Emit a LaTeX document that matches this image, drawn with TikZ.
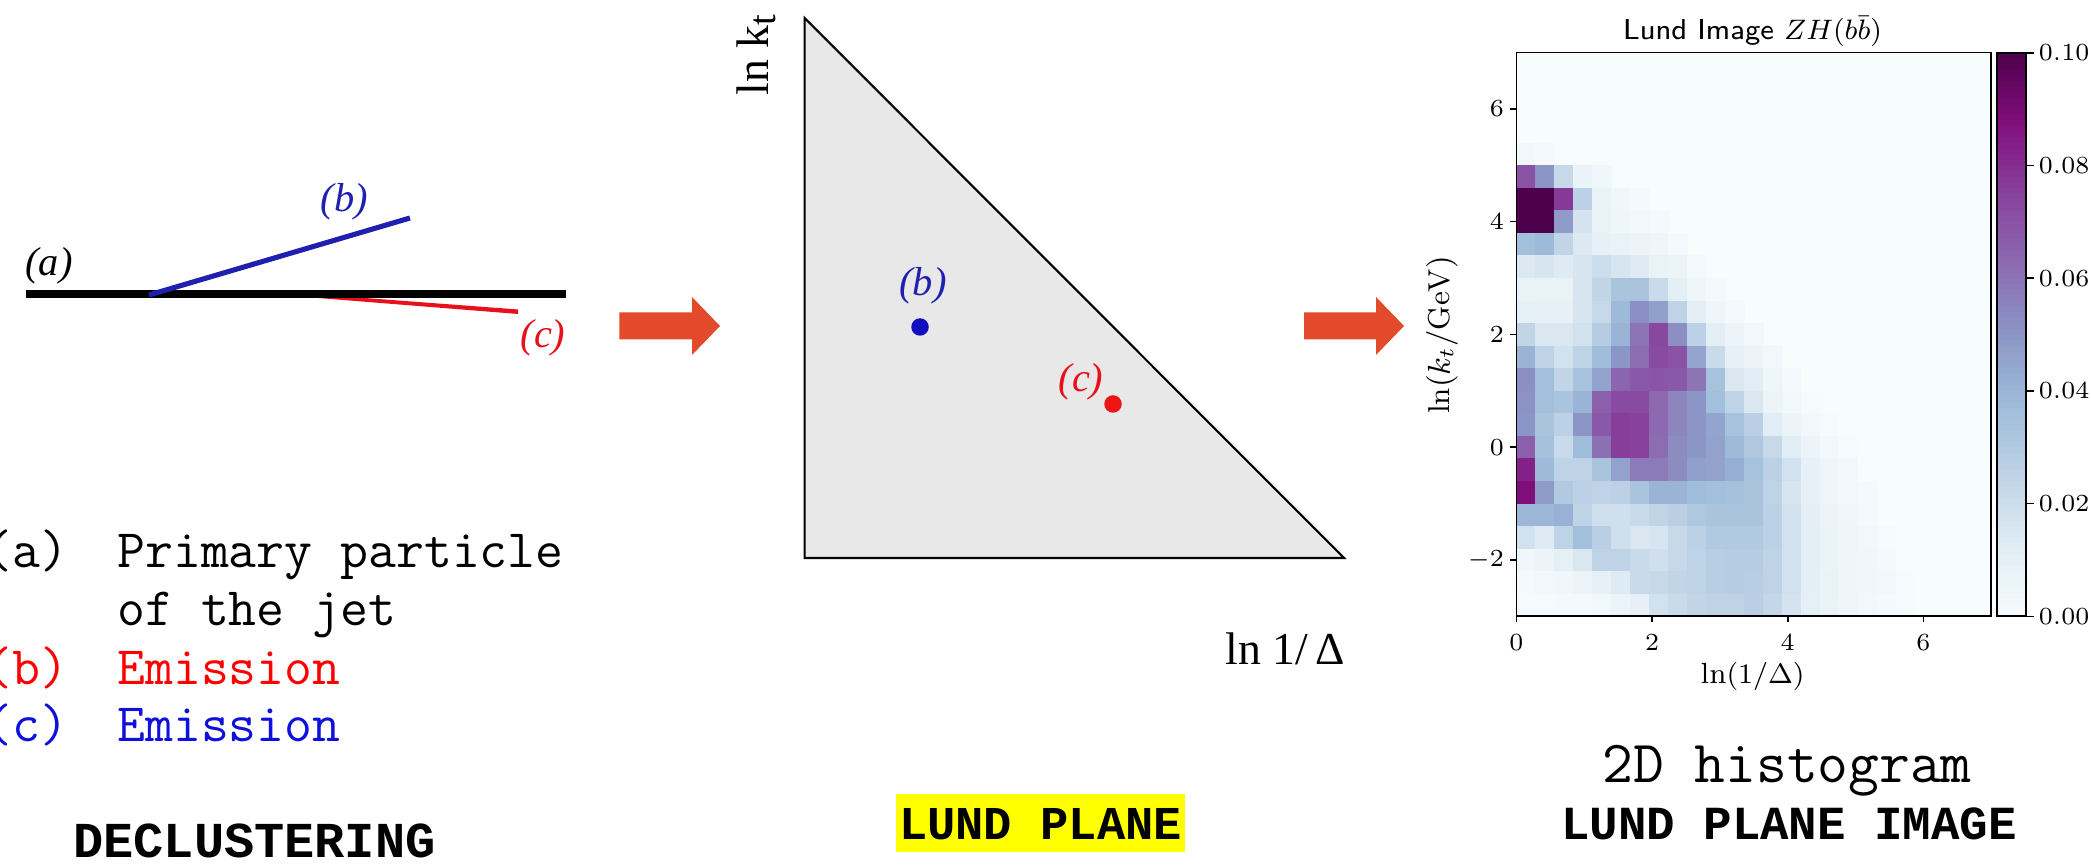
\documentclass[tikz,border=0pt]{standalone}
\usepackage{fontspec}
\newfontfamily\timesf{Liberation Serif}
\newfontfamily\boldmono{Liberation Mono}
\definecolor{bp0}{HTML}{F7FCFD}
\definecolor{bp1}{HTML}{E0ECF4}
\definecolor{bp2}{HTML}{BFD3E6}
\definecolor{bp3}{HTML}{9EBCDA}
\definecolor{bp4}{HTML}{8C96C6}
\definecolor{bp5}{HTML}{8C6BB1}
\definecolor{bp6}{HTML}{88419D}
\definecolor{bp7}{HTML}{810F7C}
\definecolor{bp8}{HTML}{4D004B}
\definecolor{arrowc}{HTML}{E24A2B}
\definecolor{lineblue}{HTML}{2020B0}
\definecolor{linered}{HTML}{E8101A}
\definecolor{dotblue}{HTML}{1010C0}
\definecolor{dotred}{HTML}{F01515}
\definecolor{txtred}{HTML}{FF0000}
\definecolor{txtblue}{HTML}{1010DD}
\definecolor{trigray}{HTML}{E8E8E8}
\definecolor{hlyellow}{HTML}{FFFF00}
\newcommand\hmcol[1]{%
  \pgfmathsetmacro\hmT{min(#1,99.99)/12.5}%
  \pgfmathtruncatemacro\hmI{floor(\hmT)}%
  \pgfmathtruncatemacro\hmJ{\hmI+1}%
  \pgfmathtruncatemacro\hmP{round(100*(\hmJ-\hmT))}%
  \colorlet{cellc}{bp\hmI!\hmP!bp\hmJ}}
\tikzset{
  lbl/.style={inner sep=0pt, font=\timesf\itshape\fontsize{11.5}{12}\selectfont},
  axlbl/.style={inner sep=0pt, font=\timesf\fontsize{13}{14}\selectfont},
  mono/.style={inner sep=0pt, anchor=base west, font=\ttfamily\fontsize{15.4}{16}\selectfont},
  monob/.style={inner sep=0pt, anchor=base, font=\boldmono\bfseries\fontsize{13.5}{14}\selectfont},
  ticklbl/.style={inner sep=0pt, font=\fontsize{7}{8}\selectfont},
  dotmark/.style={circle, inner sep=0pt, minimum size=0.175cm},
  blockarrow/.style={fill=arrowc},
  tickline/.style={line width=0.45pt}
}
\begin{document}
\begin{tikzpicture}[x=0.01cm,y=-0.01cm]
\useasboundingbox (0,0) rectangle (2091,865);
\fill[white] (0,0) rectangle (2091,865);

% ---------------- left panel: declustering ----------------
\coordinate (a0) at (26,294);
\coordinate (a1) at (566,294);
\coordinate (b0) at (149,295);
\coordinate (b1) at (410,218);
\fill[linered] (318,294.5) -- (518,309.5) -- (518,314) -- (318,298) -- cycle;
\draw[line width=2.3pt] (a0) -- (a1);
\draw[lineblue, line width=1.45pt] (b0) -- (b1);
\node[lbl] (la) at (49,266) {(a)};
\node[lbl, text=lineblue] (lb) at (344.5,202) {(b)};
\node[lbl, text=linered] (lc) at (543,338) {(c)};

\node[mono] (ia) at (-16,568) {(a)};
\node[mono] (ta) at (116.7,568) {Primary particle};
\node[mono] (ta2) at (116.7,626) {of the jet};
\node[mono, text=txtred] (ib) at (-16,685) {(b)};
\node[mono, text=txtred] (tb) at (116.7,685) {Emission};
\node[mono, text=txtblue] (ic) at (-16,742) {(c)};
\node[mono, text=txtblue] (tc) at (116.7,742) {Emission};
\node[monob, font=\boldmono\bfseries\fontsize{14.3}{15}\selectfont] (decl) at (254.5,858) {DECLUSTERING};

% ---------------- arrows ----------------
\fill[blockarrow] (619.4,312.5) -- (692,312.5) -- (692,297) -- (720,326) -- (692,355) -- (692,339.5) -- (619.4,339.5) -- cycle;
\fill[blockarrow] (1304,312.5) -- (1376,312.5) -- (1376,297) -- (1404,326) -- (1376,355) -- (1376,339.5) -- (1304,339.5) -- cycle;

% ---------------- middle panel: Lund plane ----------------
\coordinate (t0) at (804.6,18);
\coordinate (t1) at (804.6,558);
\coordinate (t2) at (1344,558);
\filldraw[fill=trigray, draw=black, line width=0.6pt, line join=miter] (t0) -- (t1) -- (t2) -- cycle;
\node[axlbl, rotate=90, anchor=base west] (lnkt) at (768,96) {ln k\raisebox{-0.35ex}{\fontsize{11}{11}\selectfont t}};
\node[axlbl, anchor=base east] (lnd) at (1346,665) {ln 1/\,Δ};
\node[lbl, text=lineblue] (pb) at (923,286) {(b)};
\node[dotmark, fill=dotblue] (bdot) at (920,327) {};
\node[lbl, text=linered] (pc) at (1081,382) {(c)};
\node[dotmark, fill=dotred] (cdot) at (1113,404) {};

\fill[hlyellow] (896,794) rectangle (1185,852);
\node[monob, font=\boldmono\bfseries\fontsize{13.4}{14}\selectfont] (lp) at (1040.5,840) {LUND PLANE};

% ---------------- right panel: histogram ----------------
\begin{scope}[shift={(15.155cm,-6.16cm)}, x=0.6779cm, y=0.5635cm]
  \fill[bp0] (0,0) rectangle (7,10);
  \foreach \rowv [count=\k from 0] in {
    {1,1,2,2,3,6,9,18,21,24,25,25,27,23,17,10,7,5,3,2,1},
    {2,3,4,6,9,13,21,22,24,25,28,29,28,25,18,11,8,5,4,3,1},
    {4,6,10,15,25,25,21,19,22,25,28,29,29,25,18,11,7,5,4,2},
    {18,13,25,36,27,19,15,16,22,26,30,30,30,26,18,11,7,5,3,1},
    {39,39,41,25,19,19,21,24,27,31,33,33,33,26,18,11,6,4,2},
    {88,48,30,26,25,26,33,40,40,37,36,35,33,25,16,9,5,3,2},
    {83,38,25,25,33,46,58,58,53,47,46,42,34,26,18,9,5,3},
    {66,35,21,37,61,76,75,62,53,50,46,38,31,22,12,6,3,1},
    {50,33,26,50,68,76,75,63,55,50,45,34,27,12,6,3,1},
    {51,36,33,40,66,72,72,63,55,50,36,25,15,6,3,1},
    {52,36,24,34,46,64,68,69,68,60,34,15,12,5,2},
    {40,25,18,25,37,50,62,72,70,45,21,9,6,3},
    {24,15,15,18,29,40,60,73,52,26,11,6,3},
    {10,9,9,16,22,38,52,47,25,11,5,2},
    {8,8,8,16,24,33,33,21,11,5,2},
    {14,16,13,16,20,16,13,8,6,2},
    {36,38,24,14,9,8,6,5,2},
    {100,100,48,17,8,5,3,2},
    {100,100,77,26,8,4,2},
    {70,50,22,7,4},
    {3,2}}{
    \foreach \v [count=\c from 0] in \rowv {
      \ifnum\v>0
        \hmcol{\v}
        \fill[cellc] (0.28*\c,0.4*\k) rectangle (0.28*\c+0.283,0.4*\k+0.404);
      \fi
    }
  }
  \draw[line width=0.5pt] (0,0) rectangle (7,10);
  \foreach \yv/\yl in {6/6,4/4,2/2,0/0,-2/-2}{
    \draw[tickline] (0,\yv+3) -- (-0.0885,\yv+3);
    \node[ticklbl, anchor=east] (yt\yv) at (-0.1755,\yv+3) {$\yl$};
  }
  \foreach \xv in {0,2,4,6}{
    \draw[tickline] (\xv,0) -- (\xv,-0.1065);
    \node[ticklbl, anchor=north] (xt\xv) at (\xv,-0.319) {$\xv$};
  }
\end{scope}

% colorbar
\begin{scope}[shift={(19.96cm,-6.16cm)}, x=0.01cm, y=0.01cm]
  \foreach \i in {0,...,99}{
    \hmcol{\i+0.5}
    \fill[cellc] (0,5.635*\i) rectangle (29,5.635*\i+5.9);
  }
  \draw[line width=0.5pt] (0,0) rectangle (29,563.5);
  \foreach \j/\jl in {0/0.00,1/0.02,2/0.04,3/0.06,4/0.08,5/0.10}{
    \draw[tickline] (29,112.7*\j) -- (37,112.7*\j);
    \node[ticklbl, anchor=west] (cb\j) at (41,112.7*\j) {$\jl$};
  }
\end{scope}

\node[inner sep=0pt, anchor=base, font=\sffamily\fontsize{8.2}{9}\selectfont] (title) at (1752.5,40) {Lund Image $ZH(b\bar{b})$};
\node[inner sep=0pt, font=\fontsize{8.3}{9}\selectfont] (xlab) at (1752.6,676) {$\ln(1/\Delta)$};
\node[inner sep=0pt, rotate=90, font=\fontsize{8.6}{9}\selectfont] (ylab) at (1442,335) {$\ln(k_t/\mathrm{GeV})$};

\node[inner sep=0pt, anchor=base, font=\ttfamily\fontsize{17}{18}\selectfont] (hist) at (1787,783) {2D histogram};
\node[monob] (lpi) at (1789,840) {LUND PLANE IMAGE};
\end{tikzpicture}
\end{document}
